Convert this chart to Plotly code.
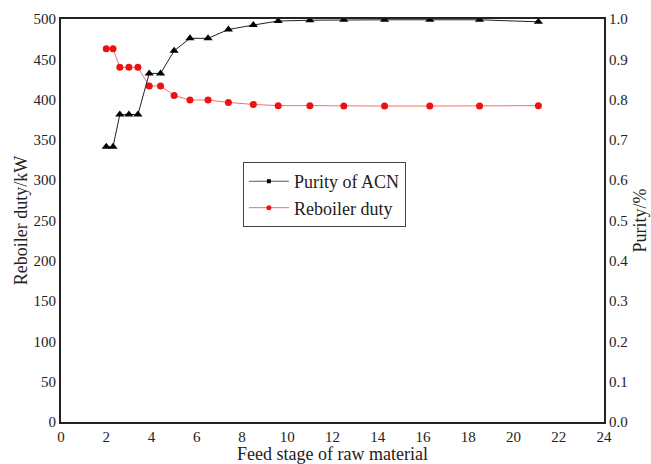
import plotly.graph_objects as go

stages = [2.0, 2.3, 2.6, 3.0, 3.4, 3.9, 4.4, 5.0, 5.7, 6.5, 7.4, 8.5, 9.6, 11.0, 12.5, 14.3, 16.3, 18.5, 21.1]
purity = [0.683, 0.683, 0.763, 0.763, 0.763, 0.865, 0.865, 0.921, 0.952, 0.952, 0.974, 0.985, 0.995, 0.997, 0.998, 0.998, 0.998, 0.998, 0.993]
duty = [463, 463, 440, 440, 440, 417, 417, 405, 399.5, 399.5, 396.5, 394, 392.5, 392.5, 392, 392, 392, 392, 392.5]

x_ticks = list(range(0, 25, 2))
y1_ticks = list(range(0, 501, 50))
y2_ticks = [i / 10 for i in range(0, 11)]

font = "Liberation Serif"
tickfont = dict(family=font, size=15, color="#222222")
fig = go.Figure()

fig.add_trace(go.Scatter(x=stages, y=purity, yaxis="y2", mode="lines+markers",
                         line=dict(color="#222222", width=1),
                         marker=dict(symbol="triangle-up", size=8, color="black"),
                         showlegend=False))
fig.add_trace(go.Scatter(x=stages, y=duty, mode="lines+markers",
                         line=dict(color="#f07070", width=1),
                         marker=dict(symbol="circle", size=7, color="#ee1111"),
                         showlegend=False))
fig.add_trace(go.Scatter(x=[None], y=[None], mode="lines+markers", name="Purity of ACN",
                         line=dict(color="#555555", width=1),
                         marker=dict(symbol="square", size=4, color="black")))
fig.add_trace(go.Scatter(x=[None], y=[None], mode="lines+markers", name="Reboiler duty",
                         line=dict(color="#f07070", width=1),
                         marker=dict(symbol="circle", size=5, color="#ee1111")))

fig.update_layout(
    width=651, height=464,
    margin=dict(l=61, r=47, t=19, b=42),
    plot_bgcolor="white", paper_bgcolor="white",
    font=dict(family=font, size=15, color="#222222"),
    xaxis=dict(range=[0, 24], tickvals=x_ticks, ticktext=[str(v) for v in x_ticks],
               tickfont=tickfont, automargin=False,
               showgrid=False, zeroline=False, showline=True, linecolor="#222222",
               linewidth=2, mirror=True, ticks="",
               title=dict(text="Feed stage of raw material", font=dict(family=font, size=18), standoff=6)),
    yaxis=dict(range=[0, 500], tickvals=y1_ticks, ticktext=[str(v) for v in y1_ticks],
               tickfont=tickfont, automargin=False,
               showgrid=False, zeroline=False, showline=True, linecolor="#222222",
               linewidth=2, ticks="",
               title=dict(text="Reboiler duty/kW", font=dict(family=font, size=18), standoff=1)),
    yaxis2=dict(range=[0, 1.0], tickvals=y2_ticks, ticktext=[f"{v:.1f}" for v in y2_ticks],
                tickfont=tickfont, automargin=False,
                overlaying="y", side="right", showgrid=False, zeroline=False,
                showline=True, linecolor="#222222", linewidth=2, ticks="",
                title=dict(text="Purity/%", font=dict(family=font, size=18), standoff=6)),
    legend=dict(x=0.335, y=0.645, xanchor="left", yanchor="top",
                bordercolor="#444444", borderwidth=1, bgcolor="white",
                font=dict(family=font, size=18), tracegroupgap=0, itemwidth=40),
)

fig.write_html("out.html")
